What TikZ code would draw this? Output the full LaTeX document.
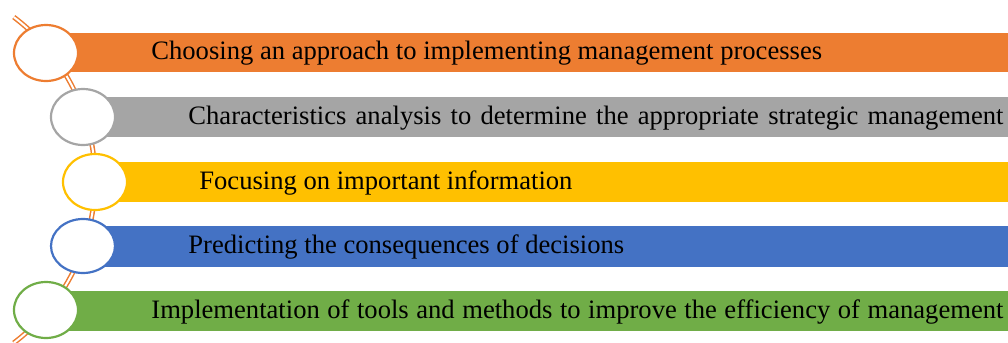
\documentclass[tikz,border=0pt]{standalone}
\usepackage{fontspec}
\setmainfont{Liberation Serif}
\definecolor{cOrange}{HTML}{ED7D31}
\definecolor{cGray}{HTML}{A5A5A5}
\definecolor{cYellow}{HTML}{FFC000}
\definecolor{cBlue}{HTML}{4472C4}
\definecolor{cGreen}{HTML}{70AD47}
\begin{document}
\begin{tikzpicture}[x=0.5pt,y=-0.5pt,
  bar/.style={fill=#1,draw=none},
  bub/.style={draw=#1,fill=white,line width=1.1pt},
  lbl/.style={anchor=base west,inner sep=0pt,font=\fontsize{13.3}{15}\selectfont,text=black},
  spine/.style={draw=cOrange,double=white,line width=0.75pt,double distance=1pt}]
\useasboundingbox (0,0) rectangle (1008,343);
% spine arc (behind everything)
\coordinate (c) at (-109,180);
\draw[spine] (c) ++(-53:204) coordinate (top) arc[start angle=-53,end angle=53,radius=204] coordinate (bot);
% bars
\fill[bar=cOrange] (46,33) rectangle (1008,72);
\fill[bar=cGray] (83,97) rectangle (1008,137);
\fill[bar=cYellow] (95,162) rectangle (1008,202);
\fill[bar=cBlue] (83,226) rectangle (1008,267);
\fill[bar=cGreen] (46,291) rectangle (1008,331);
% bubbles
\draw[bub=cOrange] (46,53) ellipse[x radius=32,y radius=28];
\draw[bub=cGray] (83,117) ellipse[x radius=32,y radius=28];
\draw[bub=cYellow] (95,182) ellipse[x radius=32,y radius=28];
\draw[bub=cBlue] (83,246) ellipse[x radius=32,y radius=27];
\draw[bub=cGreen] (46,310) ellipse[x radius=32,y radius=28];
% labels
\node[lbl] (t1) at (151,59) {Choosing an approach to implementing management processes};
\node[lbl] (t2) at (188,124) {\makebox[407.5pt][s]{Characteristics analysis to determine the appropriate strategic management}};
\node[lbl] (t3) at (199,189) {Focusing on important information};
\node[lbl] (t4) at (188,253) {Predicting the consequences of decisions};
\node[lbl] (t5) at (151,318) {\makebox[426pt][s]{Implementation of tools and methods to improve the efficiency of management}};
\end{tikzpicture}
\end{document}
